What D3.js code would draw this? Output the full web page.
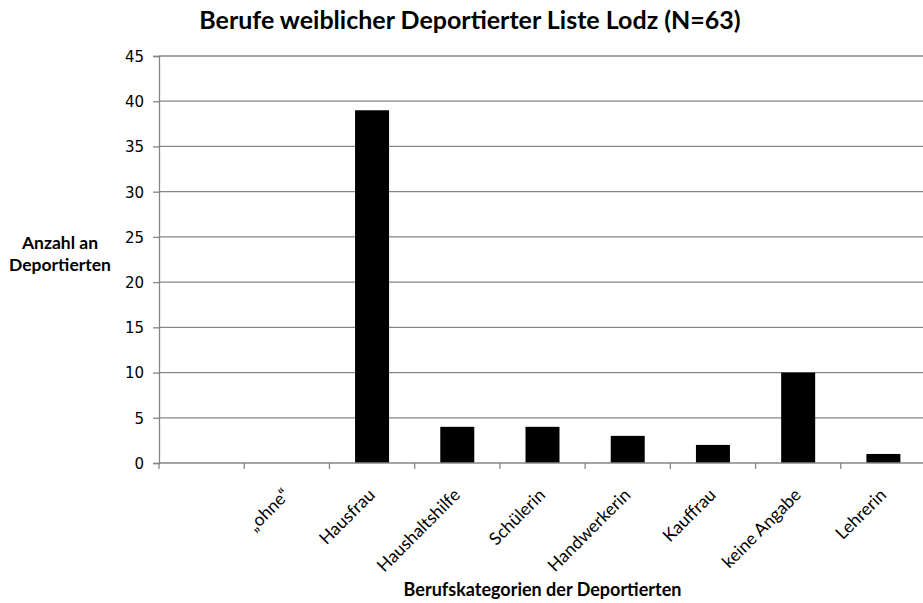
<!DOCTYPE html>
<html><head><meta charset="utf-8">
<script src="https://cdn.jsdelivr.net/npm/d3@7"></script>
<style>body{margin:0;background:#fff}svg{display:block}</style>
</head><body>
<script>
const categories = ["", "„ohne“", "Hausfrau", "Haushaltshilfe", "Schülerin", "Handwerkerin", "Kauffrau", "keine Angabe", "Lehrerin"];
const values = [null, 0, 39, 4, 4, 3, 2, 10, 1];
const yTicks = [0, 5, 10, 15, 20, 25, 30, 35, 40, 45];
const title = "Berufe weiblicher Deportierter Liste Lodz (N=63)";
const xTitle = "Berufskategorien der Deportierten";
const yTitle = ["Anzahl an", "Deportierten"];

const W = 923, H = 603;
const m = {left: 159, top: 56, right: -3, bottom: 140};
const svg = d3.select("body").append("svg").attr("width", W).attr("height", H);

const x = d3.scaleBand().domain(categories.map((c,i)=>i)).range([m.left, W - m.right]).paddingInner(0).paddingOuter(0);
const y = d3.scaleLinear().domain([0, 45]).range([H - m.bottom, m.top]);

const grid = "#868686";
svg.append("g").selectAll("line").data(yTicks.filter(t=>t>0)).join("line")
  .attr("x1", m.left).attr("x2", W).attr("y1", d=>y(d)).attr("y2", d=>y(d))
  .attr("stroke", grid).attr("stroke-width", 1.3);

const ya = svg.append("g").attr("transform", `translate(${m.left},0)`)
  .call(d3.axisLeft(y).tickValues(yTicks).tickSize(6).tickPadding(9));
ya.select(".domain").attr("stroke", grid).attr("stroke-width", 1.3);
ya.selectAll(".tick line").attr("stroke", grid).attr("stroke-width", 1.3);
ya.selectAll(".tick text").attr("font-family", "DejaVu Sans").attr("font-size", 15).attr("fill", "#000")
  .attr("dy", "0.36em");

const bw = 34;
svg.append("g").selectAll("rect").data(values.map((v,i)=>({v,i})).filter(d=>d.v)).join("rect")
  .attr("x", d=>x(d.i) + x.bandwidth()/2 - bw/2).attr("width", bw)
  .attr("y", d=>y(d.v)).attr("height", d=>y(0)-y(d.v)).attr("fill", "#000");

const xa = svg.append("g").attr("transform", `translate(0,${y(0)})`);
xa.append("line").attr("x1", m.left).attr("x2", W).attr("stroke", grid).attr("stroke-width", 1.3);
xa.selectAll(".tk").data(categories.map((c,i)=>x(i))).join("line").attr("class","tk")
  .attr("x1", d=>d).attr("x2", d=>d).attr("y1", 0).attr("y2", 6)
  .attr("stroke", grid).attr("stroke-width", 1.3);

svg.append("g").selectAll("text").data(categories.map((c,i)=>({c,i})).filter(d=>d.c)).join("text")
  .attr("transform", d=>`translate(${x(d.i)+x.bandwidth()/2+4},${y(0)+33}) rotate(-45)`)
  .attr("text-anchor", "end").attr("font-family", "Lato").attr("font-size", 17.5).attr("fill", "#000")
  .text(d=>d.c);

svg.append("text").attr("x", 470).attr("y", 29).attr("text-anchor", "middle")
  .attr("font-family", "Lato").attr("font-weight", "bold").attr("font-size", 25).attr("fill", "#000").text(title);
svg.append("text").attr("x", (m.left + W - m.right)/2).attr("y", 596).attr("text-anchor", "middle")
  .attr("font-family", "Lato").attr("font-weight", "bold").attr("font-size", 18).attr("fill", "#000").text(xTitle);
svg.append("text").attr("text-anchor", "middle").attr("font-family", "Lato").attr("font-weight", "bold")
  .attr("font-size", 17.5).attr("fill", "#000")
  .selectAll("tspan").data(yTitle).join("tspan").attr("x", 60).attr("y", (d,i)=>249 + i*22).text(d=>d);
</script>
</body></html>
